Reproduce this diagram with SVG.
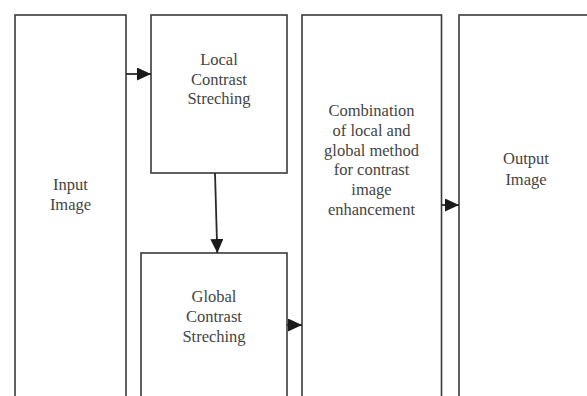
<svg xmlns="http://www.w3.org/2000/svg" width="587" height="396" viewBox="0 0 587 396">
<style>
.box{fill:#fff;stroke:#3a3a3a;stroke-width:1.6}
.lbl{font-size:16.5px;fill:#444;text-anchor:middle}
.con{stroke:#2a2a2a;stroke-width:1.8;fill:none}
</style>
<defs>
<marker id="ah" markerUnits="userSpaceOnUse" markerWidth="15" markerHeight="13" refX="14" refY="6.5" orient="auto" viewBox="0 0 15 13">
<path d="M0,0 L14,6.5 L0,13 z" fill="#1a1a1a"/>
</marker>
</defs>
<rect width="587" height="396" fill="#fff"/>
<g font-family="Liberation Serif, DejaVu Serif, serif">
<g id="input">
<rect class="box" x="15" y="15" width="111" height="400"/>
<text class="lbl" x="70.5" y="190">Input</text>
<text class="lbl" x="70.5" y="210">Image</text>
</g>
<g id="local">
<rect class="box" x="151" y="15" width="136" height="158"/>
<text class="lbl" x="219" y="65">Local</text>
<text class="lbl" x="219" y="84.5">Contrast</text>
<text class="lbl" x="219" y="104">Streching</text>
</g>
<g id="global">
<rect class="box" x="141" y="253" width="146" height="200"/>
<text class="lbl" x="214" y="302">Global</text>
<text class="lbl" x="214" y="322">Contrast</text>
<text class="lbl" x="214" y="342">Streching</text>
</g>
<g id="combination">
<rect class="box" x="302" y="15" width="139.5" height="400"/>
<text class="lbl" x="371.5" y="116">Combination</text>
<text class="lbl" x="371.5" y="135.8">of local and</text>
<text class="lbl" x="371.5" y="155.6">global method</text>
<text class="lbl" x="371.5" y="175.4">for contrast</text>
<text class="lbl" x="371.5" y="195.2">image</text>
<text class="lbl" x="371.5" y="215">enhancement</text>
</g>
<g id="output">
<rect class="box" x="459" y="15" width="140" height="400"/>
<text class="lbl" x="526" y="164">Output</text>
<text class="lbl" x="526" y="185">Image</text>
</g>
</g>
<g id="connectors">
<line class="con" x1="126" y1="74" x2="151" y2="74" marker-end="url(#ah)"/>
<line class="con" x1="215" y1="173" x2="217.3" y2="253" marker-end="url(#ah)"/>
<line class="con" x1="287" y1="325" x2="302" y2="325" marker-end="url(#ah)"/>
<line class="con" x1="441.5" y1="205" x2="459" y2="205" marker-end="url(#ah)"/>
</g>
</svg>
